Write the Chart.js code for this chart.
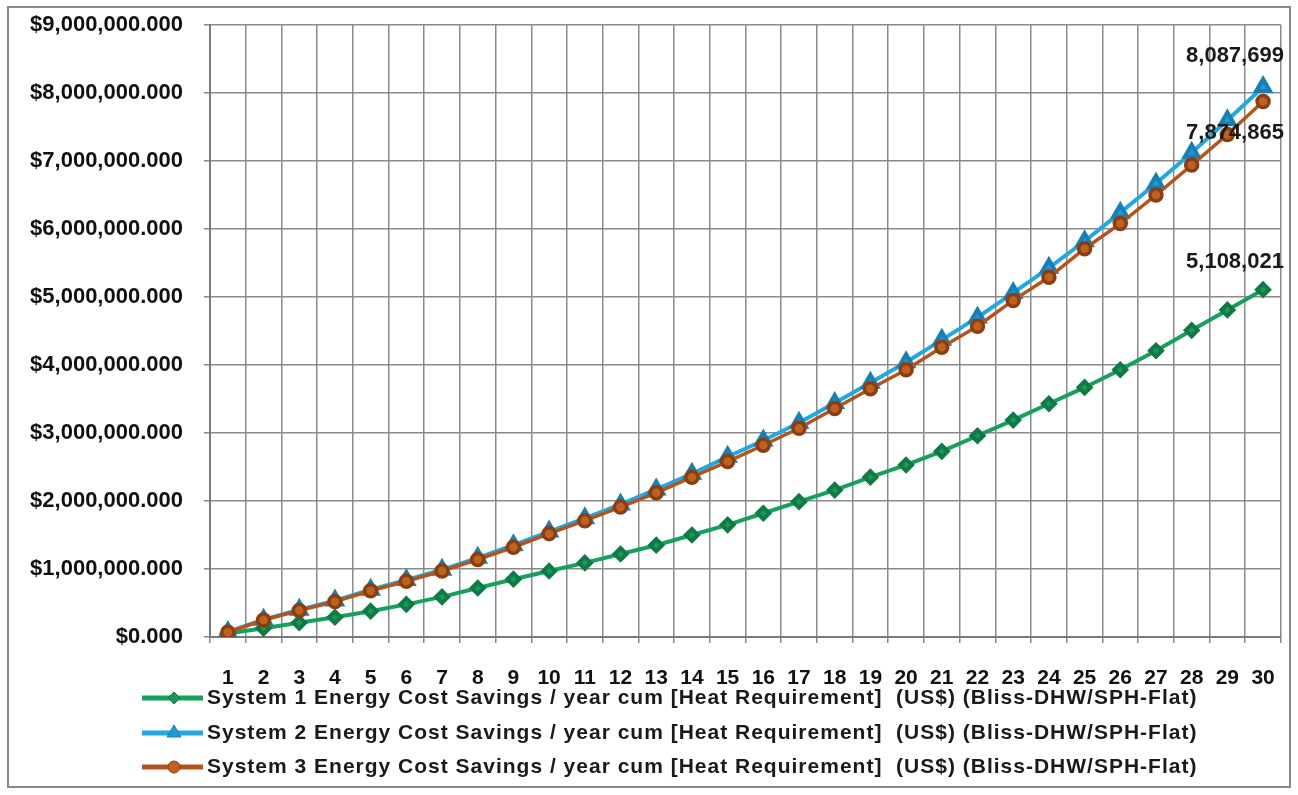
<!DOCTYPE html>
<html>
<head>
<meta charset="utf-8">
<title>Energy Cost Savings cumulative</title>
<script src="https://cdn.jsdelivr.net/npm/chart.js@4.4.1/dist/chart.umd.min.js"></script>
<style>
  html, body { margin: 0; padding: 0; background: #fff; }
  #wrap { position: relative; width: 1298px; height: 795px; }
  canvas { display: block; }
</style>
</head>
<body>
<div id="wrap"><canvas id="cSavings"></canvas></div>
<script>
/* ── data ── */
const years = ['1','2','3','4','5','6','7','8','9','10','11','12','13','14','15',
               '16','17','18','19','20','21','22','23','24','25','26','27','28','29','30'];

const system1 = [50000, 130000, 210000, 290000, 380000, 480000, 590000, 720000, 850000, 970000,
                 1090000, 1220000, 1350000, 1500000, 1650000, 1820000, 1990000, 2160000, 2350000, 2530000,
                 2730000, 2960000, 3190000, 3430000, 3670000, 3930000, 4210000, 4510000, 4810000, 5108021];

const system2 = [75000, 255000, 400000, 535000, 695000, 840000, 990000, 1165000, 1350000, 1550000,
                 1745000, 1950000, 2170000, 2400000, 2650000, 2890000, 3150000, 3440000, 3740000, 4040000,
                 4370000, 4700000, 5060000, 5430000, 5820000, 6240000, 6670000, 7120000, 7600000, 8087699];

const system3 = [70000, 250000, 390000, 520000, 680000, 820000, 970000, 1140000, 1320000, 1520000,
                 1710000, 1910000, 2120000, 2350000, 2580000, 2820000, 3070000, 3360000, 3650000, 3930000,
                 4260000, 4570000, 4950000, 5290000, 5710000, 6080000, 6500000, 6940000, 7390000, 7874865];

const seriesNames = [
  'System 1 Energy Cost Savings / year cum [Heat Requirement]  (US$) (Bliss-DHW/SPH-Flat)',
  'System 2 Energy Cost Savings / year cum [Heat Requirement]  (US$) (Bliss-DHW/SPH-Flat)',
  'System 3 Energy Cost Savings / year cum [Heat Requirement]  (US$) (Bliss-DHW/SPH-Flat)'
];
const endLabels = ['5,108,021', '8,087,699', '7,874,865'];

const yMin = 0, yMax = 9000000, yStep = 1000000;

/* ── styles ── */
const FONT = '"Liberation Sans", Arial, sans-serif';
const _gridCol = '#8a8a8a';
const endLabelDy = [-28, -31, 31];

const fmtMoney = v => '$' + Number(v).toLocaleString('en-US', { minimumFractionDigits: 3, maximumFractionDigits: 3 });

/* ── frame, end labels, legend ── */
const extras = {
  id: 'extras',
  beforeDraw(chart) {
    const ctx = chart.ctx;
    ctx.save();
    ctx.fillStyle = '#fff';
    ctx.fillRect(0, 0, chart.width, chart.height);
    ctx.strokeStyle = '#8a8a8a';
    ctx.lineWidth = 2;
    ctx.strokeRect(8, 7, 1282, 780);
    ctx.restore();
  },
  afterDraw(chart) {
    const ctx = chart.ctx;
    const area = chart.chartArea;
    ctx.save();
    ctx.font = 'bold 22px ' + FONT;
    ctx.fillStyle = '#1a1a1a';
    ctx.textAlign = 'right';
    ctx.textBaseline = 'middle';
    chart.data.datasets.forEach((ds, i) => {
      const pts = chart.getDatasetMeta(i).data;
      const p = pts[pts.length - 1];
      ctx.fillText(endLabels[i], area.right + 3, p.y + endLabelDy[i]);
    });

    // legend: line sample + marker + text
    ctx.font = 'bold 21px ' + FONT;
    const rowY = [area.bottom + 61, area.bottom + 96, area.bottom + 130];
    chart.data.datasets.forEach((ds, i) => {
      const y = rowY[i];
      ctx.strokeStyle = ds.borderColor;
      ctx.lineWidth = 5;
      ctx.beginPath();
      ctx.moveTo(142, y);
      ctx.lineTo(203, y);
      ctx.stroke();
      ctx.fillStyle = ds.pointBackgroundColor;
      ctx.strokeStyle = ds.pointBorderColor;
      ctx.lineWidth = 1;
      Chart.helpers.drawPoint(ctx, { pointStyle: ds.pointStyle, radius: ds.pointRadius, rotation: 0, borderWidth: 1 }, 174, y);
      ctx.fillStyle = '#1a1a1a';
      ctx.textAlign = 'left';
      ctx.letterSpacing = '1px';
      ctx.fillText(seriesNames[i], 207, y);
      ctx.letterSpacing = '0px';
    });
    ctx.restore();
  }
};

new Chart(document.getElementById('cSavings'), {
  type: 'line',
  data: {
    labels: years,
    datasets: [
      {
        label: seriesNames[0],
        data: system1,
        borderColor: '#17a05d',
        borderWidth: 4,
        pointStyle: 'rectRot',
        pointRadius: 6,
        pointBackgroundColor: '#1a9a58',
        pointBorderColor: '#0f7a43',
        order: 2
      },
      {
        label: seriesNames[1],
        data: system2,
        borderColor: '#21a8e2',
        borderWidth: 4,
        pointStyle: 'triangle',
        pointRadius: 8,
        pointBackgroundColor: '#1e9ad6',
        pointBorderColor: '#187fb3',
        order: 1
      },
      {
        label: seriesNames[2],
        data: system3,
        borderColor: '#b5531c',
        borderWidth: 3.5,
        pointStyle: 'circle',
        pointRadius: 6,
        pointBackgroundColor: '#c0621f',
        pointBorderColor: '#8a3f12',
        order: 0
      }
    ]
  },
  options: {
    responsive: true,
    maintainAspectRatio: false,
    animation: false,
    layout: { autoPadding: false, padding: { left: 0, top: 25, right: 15, bottom: 0 } },
    plugins: {
      legend: { display: false },
      tooltip: { enabled: false }
    },
    scales: {
      x: {
        type: 'category',
        offset: true,
        grid: { offset: true, color: _gridCol, lineWidth: 1.5, tickLength: 6 },
        border: { color: '#7a7a7a', width: 2 },
        ticks: { font: { family: FONT, size: 21, weight: 'bold' }, color: '#111', padding: 23, maxRotation: 0, autoSkip: false },
        afterFit(scale) { scale.height = 158; }
      },
      y: {
        min: yMin,
        max: yMax,
        grid: { color: _gridCol, lineWidth: 1.5, tickLength: 6 },
        border: { color: '#7a7a7a', width: 2 },
        ticks: { stepSize: yStep, font: { family: FONT, size: 22, weight: 'bold' }, color: '#111', padding: 21, callback: fmtMoney },
        afterFit(scale) {
          scale.width = 210;
          scale.paddingTop = 0;
          scale.paddingBottom = 0;
        }
      }
    }
  },
  plugins: [extras]
});
</script>
</body>
</html>
